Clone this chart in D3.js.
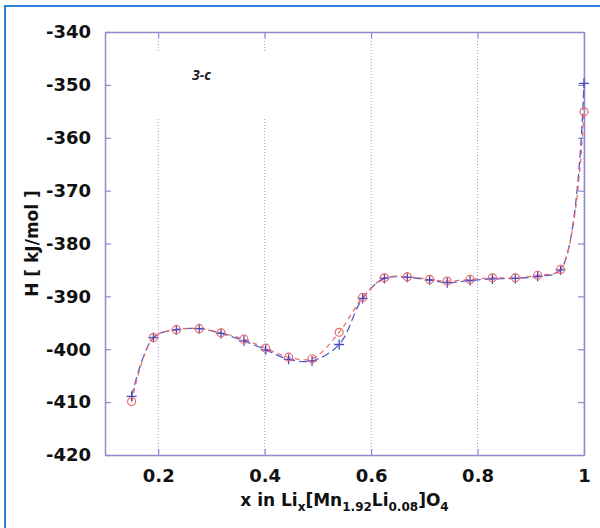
<!DOCTYPE html>
<html>
<head>
<meta charset="utf-8">
<script src="https://cdnjs.cloudflare.com/ajax/libs/d3/7.8.5/d3.min.js"></script>
<style>
  body { margin: 0; background: #fff; }
  svg { display: block; }
</style>
</head>
<body>
<div id="chart"></div>
<script>
// composition x and enthalpy values
const xValues = [0.15, 0.191, 0.234, 0.277, 0.318, 0.361, 0.402, 0.445, 0.489, 0.54, 0.584,
  0.625, 0.668, 0.71, 0.743, 0.786, 0.828, 0.871, 0.913, 0.956, 1.0];
const hCircle = [-409.9, -397.8, -396.3, -396.1, -396.9, -398.1, -399.8, -401.5, -401.8, -396.8, -390.2,
  -386.5, -386.3, -386.8, -387.1, -386.8, -386.5, -386.5, -386.0, -384.9, -355.1];
const hPlus = [-408.9, -397.8, -396.3, -396.1, -397.0, -398.4, -400.1, -401.9, -402.2, -399.1, -390.4,
  -386.6, -386.4, -386.9, -387.4, -387.0, -386.7, -386.6, -386.2, -385.0, -349.7];
const xTicks = [0.2, 0.4, 0.6, 0.8, 1];
const yTicks = [-420, -410, -400, -390, -380, -370, -360, -350, -340];

const width = 600, height = 528;
const margins = { top: 32, bottom: 73, left: 105, right: 16 };

const svg = d3.select("#chart").append("svg")
  .attr("width", width)
  .attr("height", height);

// outer blue frame
svg.append("rect")
  .attr("x", 5).attr("y", 6)
  .attr("width", 620).attr("height", 560)
  .attr("fill", "none")
  .attr("stroke", "#2a80d6")
  .attr("stroke-width", 2);

const xScale = d3.scaleLinear()
  .domain([0.1, 1])
  .range([margins.left, width - margins.right]);

const yScale = d3.scaleLinear()
  .domain([-420, -340])
  .range([height - margins.bottom, margins.top]);

const axisColor = "#8c8cd0";

// dotted grid lines
svg.append("g")
  .selectAll("line")
  .data(xTicks)
  .join("line")
  .attr("x1", d => xScale(d)).attr("x2", d => xScale(d))
  .attr("y1", yScale(-340)).attr("y2", yScale(-420))
  .attr("stroke", "#9a9ad8")
  .attr("stroke-width", 1)
  .attr("stroke-dasharray", "1,2");

// white patch behind the panel label
svg.append("rect")
  .attr("x", 148).attr("y", 52)
  .attr("width", 125).attr("height", 66)
  .attr("fill", "#fff");

svg.append("text")
  .attr("x", 192).attr("y", 80)
  .attr("font-family", "Noto Sans")
  .attr("font-style", "italic")
  .attr("font-weight", "bold")
  .attr("font-size", 14)
  .attr("fill", "#222")
  .text("3-c");

// axes with inward ticks on all four sides
const styleAxis = g => {
  g.selectAll(".domain").attr("stroke", axisColor).attr("stroke-width", 1.5);
  g.selectAll(".tick line").attr("stroke", axisColor).attr("stroke-width", 1.2);
  g.selectAll(".tick text")
    .attr("font-family", "DejaVu Sans")
    .attr("font-weight", "bold")
    .attr("font-size", 18)
    .attr("fill", "#111");
};

svg.append("g")
  .attr("transform", `translate(0,${yScale(-420)})`)
  .call(d3.axisBottom(xScale).tickValues(xTicks).tickFormat(d3.format("")).tickSizeInner(-6).tickSizeOuter(0).tickPadding(14))
  .call(styleAxis);

svg.append("g")
  .attr("transform", `translate(0,${yScale(-340)})`)
  .call(d3.axisTop(xScale).tickValues(xTicks).tickFormat("").tickSizeInner(-6).tickSizeOuter(0))
  .call(styleAxis);

svg.append("g")
  .attr("transform", `translate(${xScale(0.1)},0)`)
  .call(d3.axisLeft(yScale).tickValues(yTicks).tickFormat(d3.format("")).tickSizeInner(-6).tickSizeOuter(0).tickPadding(14))
  .call(styleAxis)
  .selectAll(".tick text").text(d => d3.format("")(d).replace("−", "-"));

svg.append("g")
  .attr("transform", `translate(${xScale(1)},0)`)
  .call(d3.axisRight(yScale).tickValues(yTicks).tickFormat("").tickSizeInner(-6).tickSizeOuter(0))
  .call(styleAxis);

// series
const circleData = xValues.map((x, i) => [x, hCircle[i]]);
const plusData = xValues.map((x, i) => [x, hPlus[i]]);

const line = d3.line()
  .x(d => xScale(d[0]))
  .y(d => yScale(d[1]))
  .curve(d3.curveCatmullRom.alpha(0.5));

svg.append("path")
  .datum(plusData)
  .attr("d", line)
  .attr("fill", "none")
  .attr("stroke", "#5a5ac8")
  .attr("stroke-width", 1.3)
  .attr("stroke-dasharray", "8,4");

svg.append("path")
  .datum(circleData)
  .attr("d", line)
  .attr("fill", "none")
  .attr("stroke", "#e86a6a")
  .attr("stroke-width", 1.2)
  .attr("stroke-dasharray", "5,4");

svg.append("g")
  .selectAll("path")
  .data(plusData)
  .join("path")
  .attr("d", d => {
    const px = xScale(d[0]), py = yScale(d[1]);
    return `M${px - 5},${py}H${px + 5}M${px},${py - 5}V${py + 5}`;
  })
  .attr("stroke", "#4a4ac0")
  .attr("stroke-width", 1.3);

svg.append("g")
  .selectAll("circle")
  .data(circleData)
  .join("circle")
  .attr("cx", d => xScale(d[0]))
  .attr("cy", d => yScale(d[1]))
  .attr("r", 4)
  .attr("fill", "none")
  .attr("stroke", "#e86a6a")
  .attr("stroke-width", 1.2);

// axis titles
const yTitle = svg.append("text")
  .attr("transform", `translate(38,${yScale(-380)}) rotate(-90)`)
  .attr("text-anchor", "middle")
  .attr("font-family", "DejaVu Sans")
  .attr("font-weight", "bold")
  .attr("font-size", 17)
  .attr("fill", "#111")
  .text("H [ kJ/mol ]");

const xTitle = svg.append("text")
  .attr("x", xScale(0.55))
  .attr("y", 506)
  .attr("text-anchor", "middle")
  .attr("font-family", "DejaVu Sans")
  .attr("font-weight", "bold")
  .attr("font-size", 17)
  .attr("fill", "#111");

const parts = [["x in Li", 0], ["x", 1], ["[Mn", 0], ["1.92", 1], ["Li", 0], ["0.08", 1], ["]O", 0], ["4", 1]];
let prevSub = false;
parts.forEach(([t, sub]) => {
  const ts = xTitle.append("tspan").text(t);
  if (sub) {
    ts.attr("font-size", 12).attr("dy", prevSub ? 0 : 5);
  } else {
    ts.attr("dy", prevSub ? -5 : 0);
  }
  prevSub = !!sub;
});
</script>
</body>
</html>
